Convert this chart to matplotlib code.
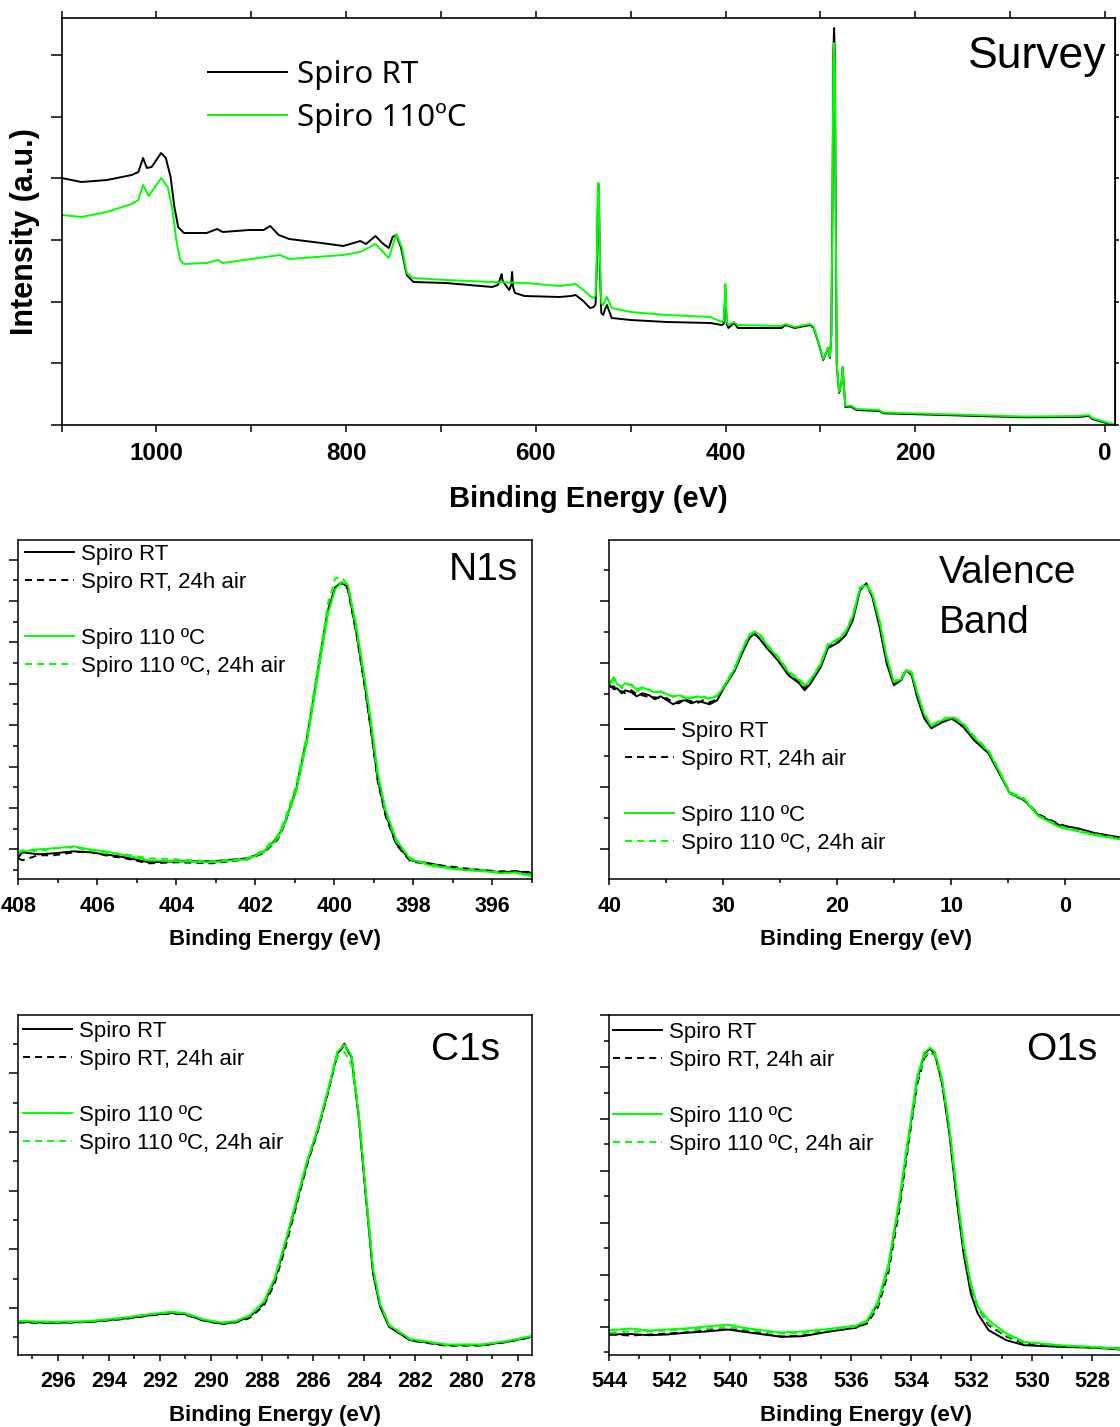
import matplotlib.pyplot as plt
import numpy as np
from matplotlib.lines import Line2D
from matplotlib.ticker import MultipleLocator

plt.rcParams["font.family"] = ["Liberation Sans", "DejaVu Sans"]

W, H = 1120, 1427
GREEN = "#00ff00"
DASH = (3.6, 2.6)

# %% survey spectrum (binding energy in eV, intensity in arbitrary units)
surv_e_rt = [1100, 1079, 1052, 1026, 1019, 1014, 1010, 1005, 995, 990,
             985, 981, 977, 971, 947, 936, 930, 902, 887, 880,
             871, 860, 826, 803, 785, 779, 769, 762, 755, 751,
             747, 742, 736, 729, 695, 646, 640, 637, 636, 635,
             628, 626, 625, 624, 622, 612, 575, 563, 558, 550,
             543, 539, 537, 535.5, 534.5, 534, 533.5, 532.5, 531, 529,
             527, 525, 522, 520, 500, 462, 416, 404, 402, 400.8,
             400.2, 399.6, 398.8, 397, 391, 387, 341, 337, 327, 311,
             307, 302, 297, 292, 290, 288.5, 287.3, 286.4, 285.6, 284.8,
             283.9, 282.8, 280.3, 278, 276.5, 275, 273.7, 268, 262, 238,
             234, 160, 85, 28, 17, 13.5, 0, -6, -10]
surv_i_rt = [247, 243, 245, 250, 253, 267, 257, 258, 272, 267,
             248, 218, 198, 192, 192, 196, 193, 195, 195, 199,
             190, 186, 182, 179, 184, 181, 189, 182, 177, 188,
             190, 177, 150, 143, 142, 138, 140, 148, 151, 144,
             135, 140, 153, 138, 132, 129, 128, 129, 130, 124,
             117, 118, 121, 165, 230, 240, 230, 160, 112, 110,
             116, 120, 112, 107, 105, 103, 102, 100, 101, 120,
             135, 122, 101, 97, 102, 97, 97, 100, 97, 100,
             97, 82, 65, 77, 67, 90, 220, 370, 397, 370,
             220, 60, 32, 40, 58, 35, 18, 18.5, 15, 14,
             11.7, 9.7, 7.7, 8, 9, 6, 2.3, 1, 0.5]
surv_e_110 = [1100, 1079, 1052, 1026, 1019, 1014, 1008, 995, 988, 983,
              979, 975, 971, 947, 935, 930, 870, 860, 803, 785,
              769, 755, 747, 741, 736, 729, 695, 645, 611, 575,
              558, 550, 543, 539, 537, 535.5, 534.5, 534, 533.5, 532.5,
              531, 529, 525, 520, 500, 462, 416, 404, 402, 400.8,
              400.2, 399.6, 398.8, 397, 391, 387, 341, 337, 327, 311,
              307, 302, 297, 292, 290, 288.5, 287.3, 286.4, 285.6, 284.8,
              283.9, 282.8, 280.3, 278, 276.5, 275, 273.7, 268, 262, 238,
              234, 160, 85, 28, 17, 13.5, 0, -6, -10]
surv_i_110 = [210, 208, 213, 221, 225, 240, 229, 247, 238, 215,
              185, 165, 161, 162, 165, 162, 170, 166, 170, 173,
              181, 167, 191, 177, 152, 147, 145, 143, 142, 139,
              141, 135, 129, 127, 130, 175, 235, 242, 235, 170,
              122, 120, 128, 117, 113, 110, 108, 103, 104, 128,
              141, 128, 104, 100, 103, 100, 99, 101, 98, 101,
              98, 83, 66, 77, 68, 90, 215, 360, 382, 360,
              215, 60, 33, 40, 58, 35, 19, 19.5, 16, 15,
              12.5, 10.5, 8.5, 9, 10, 7, 3, 1.5, 1]

# %% N1s
n1s_e = [408.0, 407.9, 407.5, 407.1, 406.6, 406.2, 405.8, 405.3, 404.7, 404.0,
         403.1, 402.2, 401.8, 401.43, 401.25, 400.97, 400.7, 400.52, 400.34, 400.16,
         399.98, 399.82, 399.66, 399.44, 399.26, 399.08, 398.9, 398.71, 398.44, 398.08,
         397.6, 397.1, 396.7, 396.2, 395.8, 395.4, 395.0]
n1s_rt = [22, 27, 25, 26, 28, 27, 25, 22, 17, 18, 18, 21, 27, 42, 57, 89, 139, 182, 226, 269,
          292, 297, 292, 246, 202, 152, 99, 66, 36, 19, 16, 12, 10, 9, 7, 8, 6]
n1s_rt_air = [21, 19, 24, 24, 27, 28, 24, 21, 16, 17, 16, 20, 26, 40, 56, 90, 141, 184, 228, 270,
              292, 296, 290, 244, 199, 150, 97, 64, 35, 18, 15, 13, 11, 9, 8, 8, 7]
n1s_110 = [26, 28, 30, 31, 33, 30, 28, 24, 19, 18, 17, 20, 27, 41, 57, 88, 137, 180, 224, 266,
           290, 297, 295, 252, 208, 160, 106, 70, 40, 20, 14, 11, 9, 8, 6, 7, 3]
n1s_110_air = [27, 29, 28, 31, 32, 29, 26, 25, 21, 20, 18, 21, 29, 44, 60, 94, 144, 188, 232, 276,
               301, 302, 294, 248, 204, 155, 102, 68, 38, 21, 15, 12, 10, 9, 7, 6, 5]

# %% valence band
vb_e = [39.94, 39.6, 39.31, 38.9, 38.6, 38.06, 37.6, 37.1, 36.49, 36.0,
        35.5, 34.93, 34.4, 33.9, 33.36, 32.8, 32.3, 31.79, 31.2, 30.54,
        29.92, 28.98, 28.35, 27.72, 27.25, 26.78, 26.16, 25.22, 24.28, 23.34,
        22.87, 22.4, 21.46, 20.83, 19.89, 19.27, 18.64, 18.01, 17.45, 16.92,
        16.29, 15.67, 15.04, 14.41, 13.94, 13.47, 13.0, 12.38, 11.75, 10.81,
        9.87, 8.93, 7.99, 6.74, 5.8, 4.86, 3.61, 2.36, 0.48, -1.09, -2.66, -4.79]
vb_rt = [194, 190, 191, 186, 189, 187, 183, 186, 184, 180, 183, 179, 175, 178, 179, 176, 178, 177, 175, 179,
         192, 209, 226, 241, 246, 240, 231, 219, 204, 196, 189, 195, 212, 231, 237, 244, 259, 289, 296, 282,
         252, 216, 194, 199, 209, 204, 182, 161, 151, 157, 161, 152, 139, 126, 106, 86, 79, 64, 54, 51, 46, 42]
vb_rt_air = [192, 193, 188, 188, 186, 189, 185, 184, 182, 182, 181, 181, 177, 176, 180, 178, 176, 179, 177, 180,
             193, 210, 227, 242, 245, 241, 232, 220, 205, 197, 191, 196, 213, 232, 238, 245, 261, 290, 295, 283,
             254, 218, 196, 200, 210, 205, 184, 162, 152, 158, 160, 153, 140, 127, 107, 87, 80, 65, 55, 50, 46, 41]
vb_110 = [197, 202, 195, 193, 196, 194, 190, 192, 189, 187, 188, 185, 183, 184, 182, 181, 183, 182, 181, 183,
          193, 211, 229, 244, 248, 244, 234, 222, 207, 199, 194, 198, 215, 234, 240, 247, 263, 291, 294, 285,
          258, 222, 197, 200, 209, 206, 187, 165, 153, 159, 162, 155, 142, 128, 108, 86, 80, 63, 52, 48, 44, 40]
vb_110_air = [195, 199, 197, 191, 194, 195, 188, 191, 190, 186, 187, 186, 182, 185, 181, 182, 182, 183, 180, 184,
              194, 212, 230, 245, 247, 245, 235, 223, 208, 200, 195, 199, 216, 235, 241, 248, 264, 292, 295, 286,
              259, 223, 198, 201, 210, 207, 188, 166, 154, 160, 163, 156, 143, 129, 109, 87, 81, 64, 53, 49, 45, 41]

# %% C1s
c1s_e = [297.54, 296.18, 294.78, 293.38, 292.41, 291.57, 291.01, 290.31, 289.61, 289.05,
         288.49, 287.93, 287.51, 287.09, 286.67, 286.25, 285.83, 285.41, 285.06, 284.78,
         284.5, 284.22, 283.94, 283.66, 283.38, 283.03, 282.2, 280.8, 279.4, 278.42, 277.44]
c1s_rt = [32.7, 31.7, 32.7, 36, 39.3, 41.7, 40.3, 34.3, 31, 32.3, 37.7, 51, 74.3, 111, 151, 191,
          224.3, 264.3, 301, 311, 297.7, 237.7, 157.7, 81, 47.7, 27.7, 14.3, 9.3, 9.3, 12.7, 17.7]
c1s_rt_air = [32, 31.5, 32.5, 35.5, 39, 41, 40, 34, 30.5, 32, 36.5, 49, 71, 107, 148, 189,
              223, 263, 300, 310, 297, 239, 160, 83, 48.5, 28, 14, 8.8, 9, 12.5, 17.5]
c1s_110 = [33.7, 32.7, 33.5, 37, 40.3, 42.7, 41.5, 35.3, 32, 33.3, 39, 53, 76.5, 113, 153, 193,
           226, 266, 303, 310, 299, 241, 162, 86, 51, 29.5, 15.5, 10, 10, 13.5, 18.5]
c1s_110_air = [33.2, 32, 33, 36.5, 40, 42.2, 41, 35, 31.5, 33, 38.5, 52, 75.5, 112, 152, 192,
               225, 265, 298, 303, 290, 240, 161, 85, 50, 29, 15, 9.6, 9.8, 13.2, 18.2]

# %% O1s
o1s_e = [543.98, 543.3, 542.67, 542.1, 541.49, 540.8, 540.07, 539.6, 539.12, 538.3,
         537.59, 536.76, 535.81, 535.46, 535.1, 534.75, 534.39, 534.09, 533.8, 533.56,
         533.38, 533.21, 532.97, 532.73, 532.5, 532.26, 532.02, 531.79, 531.43, 530.84,
         530.25, 529.07, 527.88, 527.08]
o1s_rt = [20, 20.5, 19.3, 20, 21.7, 23, 25, 23, 21, 17.7, 18.3, 22.7, 27, 32.7, 51, 87.7, 151,
          214.3, 274.3, 301, 306, 301, 271, 221, 157.7, 101, 61, 41, 24.3, 14.3, 9.3, 7.7, 6.7, 5]
o1s_rt_air = [20, 19, 20, 21, 22, 24, 25.5, 24, 22, 18, 19, 23, 27, 31, 47, 82, 145,
              210, 270, 297, 302, 300, 272, 224, 162, 106, 67, 47, 29.3, 18, 11, 8, 7, 6]
o1s_110 = [24.3, 26, 24, 25, 26, 28, 30, 27, 25, 22, 23, 25.5, 29, 34, 53, 90, 155,
           218, 278, 302, 307, 303, 276, 228, 167, 111, 72, 48, 34.3, 21, 12.7, 9.3, 7.5, 6]
o1s_110_air = [22, 23, 23, 24, 25, 26, 27.5, 25.5, 23.5, 21, 21.5, 24.5, 28, 33, 50, 86, 150,
               213, 273, 298, 303, 300, 273, 225, 163, 107, 69, 46, 31, 19, 12, 9, 7, 5.5]

labels = ["Spiro RT", "Spiro RT, 24h air", "Spiro 110 ºC", "Spiro 110 ºC, 24h air"]


def frame(l, t, r, b):
    # pixel box -> figure fraction
    return [l / W, 1 - b / H, (r - l) / W, (b - t) / H]


fig = plt.figure(figsize=(W / 100, H / 100), dpi=100)

# %% survey
ax = fig.add_axes(frame(61.5, 18, 1114.5, 425))
ax.plot(surv_e_rt, surv_i_rt, color="black", lw=1.4, label="Spiro RT")
ax.plot(surv_e_110, surv_i_110, color=GREEN, lw=1.4, label="Spiro 110ºC")
ax.set_xlim(1100, -10)
ax.set_ylim(0, 407)
ax.xaxis.set_major_locator(MultipleLocator(200))
ax.xaxis.set_minor_locator(MultipleLocator(100))
yt = np.arange(0, 400, 61.67)
ax.set_yticks(yt)
ax.set_yticklabels([])
ax.tick_params(axis="x", which="both", direction="out", length=5, width=1.1,
               top=True, labelsize=17.5, pad=7.4)
ax.tick_params(axis="y", direction="out", length=8, width=1.1)
plt.setp(ax.get_xticklabels(), fontweight="bold")
for s in ax.spines.values():
    s.set_linewidth(1.2)
sec = ax.secondary_yaxis("right")
sec.set_yticks(yt)
sec.set_yticklabels([])
sec.tick_params(length=3, width=1.1)
ax.set_xlabel("Binding Energy (eV)", fontsize=21, fontweight="bold", va="top")
ax.xaxis.set_label_coords(588 / W, 1 - 485 / H, transform=fig.transFigure)
ax.set_ylabel("Intensity (a.u.)", fontsize=22, fontweight="bold")
ax.yaxis.set_label_coords(40 / W, 1 - 231.5 / H, transform=fig.transFigure)
ax.legend(loc="upper left", bbox_to_anchor=(208 / W, 1 - 60 / H), bbox_transform=fig.transFigure,
          frameon=False, prop={"family": "Noto Sans", "size": 22.5}, handlelength=2.54,
          handletextpad=0.32, labelspacing=0.42, borderpad=0, borderaxespad=0)
fig.text(1106 / W, 1 - 68.3 / H, "Survey", ha="right", va="baseline", fontsize=32)

# %% core levels
panels = [
    (frame(18.3, 539.5, 532, 879.3), (408, 395), 2, 1, n1s_e, [n1s_rt, n1s_rt_air, n1s_110, n1s_110_air],
     np.arange(30, 340, 41.4), np.arange(9.3, 340, 41.4), 275, 929.3, (25, 544)),
    (frame(609.3, 539.5, 1122.3, 879.3), (40, -5), 10, 5, vb_e, [vb_rt, vb_rt_air, vb_110, vb_110_air],
     np.arange(30.7, 340, 62), np.arange(61.7, 340, 62), 866, 929.3, (625, 721)),
    (frame(18.3, 1015, 532, 1354.5), (297.54, 277.44), 2, 1, c1s_e, [c1s_rt, c1s_rt_air, c1s_110, c1s_110_air],
     np.arange(46.7, 340, 58.7), np.arange(17.3, 340, 58.7), 275, 1405, (23, 1021)),
    (frame(609.3, 1015, 1122.3, 1354.5), (544, 527), 2, 1, o1s_e, [o1s_rt, o1s_rt_air, o1s_110, o1s_110_air],
     np.arange(28, 340, 51.9), np.arange(2.7, 340, 51.9), 866, 1405, (613, 1022)),
]

for box, xlim, maj, mnr, e, series, ymaj, ymin, lx, ly, (legx, legy) in panels:
    a = fig.add_axes(box)
    styles = [("black", None), ("black", DASH), (GREEN, None), (GREEN, DASH)]
    handles = []
    for (col, dash), y, lab in zip(styles, series, labels):
        if dash is None:
            ln, = a.plot(e, y, color=col, lw=1.4, label=lab)
        else:
            ln, = a.plot(e, y, color=col, lw=1.4, dashes=dash, label=lab)
        handles.append(ln)
    a.set_xlim(*xlim)
    a.set_ylim(0, 339.8)
    a.xaxis.set_major_locator(MultipleLocator(maj))
    a.xaxis.set_minor_locator(MultipleLocator(mnr))
    a.set_yticks(ymaj)
    a.set_yticks(ymin, minor=True)
    a.set_yticklabels([])
    a.tick_params(axis="x", which="major", direction="out", length=4.5, width=1.1, labelsize=15.5, pad=7.5)
    a.tick_params(axis="x", which="minor", direction="out", length=3, width=1.1)
    a.tick_params(axis="y", which="major", direction="out", length=6.5, width=1.1)
    a.tick_params(axis="y", which="minor", direction="out", length=3.3, width=1.1)
    plt.setp(a.get_xticklabels(), fontweight="bold")
    for s in a.spines.values():
        s.set_linewidth(1.1)
    a.set_xlabel("Binding Energy (eV)", fontsize=16, fontweight="bold", va="top")
    a.xaxis.set_label_coords(lx / W, 1 - ly / H, transform=fig.transFigure)
    blank = Line2D([], [], color="none")
    a.legend(handles[:2] + [blank] + handles[2:], labels[:2] + [" "] + labels[2:],
             loc="upper left", bbox_to_anchor=(legx / W, 1 - legy / H), bbox_transform=fig.transFigure,
             frameon=False, fontsize=16, handlelength=2.2, handletextpad=0.32,
             labelspacing=0.31, borderpad=0, borderaxespad=0)

fig.text(518 / W, 1 - 580 / H, "N1s", ha="right", va="baseline", fontsize=28)
fig.text(938.6 / W, 1 - 583.3 / H, "Valence", ha="left", va="baseline", fontsize=28)
fig.text(938.6 / W, 1 - 633.3 / H, "Band", ha="left", va="baseline", fontsize=28)
fig.text(500 / W, 1 - 1060 / H, "C1s", ha="right", va="baseline", fontsize=28)
fig.text(1097.5 / W, 1 - 1060 / H, "O1s", ha="right", va="baseline", fontsize=28)

fig.savefig("out.png", dpi=100)
